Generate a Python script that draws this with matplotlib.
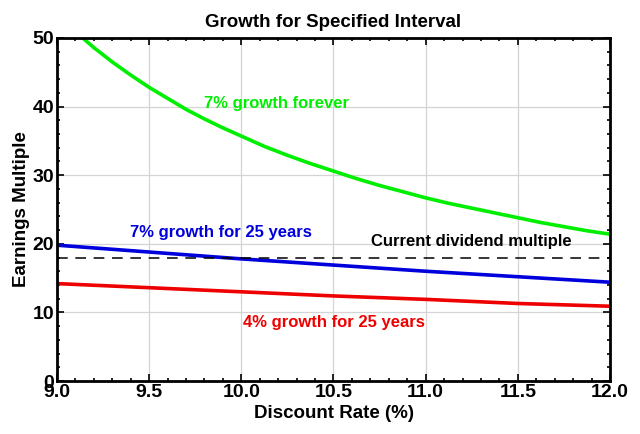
import matplotlib.pyplot as plt
from matplotlib.ticker import MultipleLocator

plt.rcParams['font.family'] = ['Liberation Sans', 'DejaVu Sans']
plt.rcParams['font.weight'] = 'bold'

# 7% growth forever
rate_forever = [9.14, 9.2, 9.3, 9.4, 9.5, 9.6, 9.7, 9.8, 9.9, 10.0, 10.125, 10.25,
                10.375, 10.5, 10.625, 10.75, 10.875, 11.0, 11.125, 11.25, 11.375,
                11.5, 11.625, 11.75, 11.875, 12.0]
mult_forever = [50.0, 48.6, 46.5, 44.6, 42.8, 41.2, 39.6, 38.2, 36.9, 35.7, 34.2, 32.9,
                31.7, 30.6, 29.5, 28.5, 27.6, 26.7, 25.9, 25.2, 24.5,
                23.8, 23.1, 22.5, 21.9, 21.4]

# 25-year growth curves
rate_25 = [9.0, 9.5, 10.0, 10.5, 11.0, 11.5, 12.0]
mult_7pct_25 = [19.8, 18.8, 17.8, 16.9, 16.0, 15.2, 14.4]
mult_4pct_25 = [14.2, 13.6, 13.0, 12.4, 11.9, 11.3, 10.9]

dividend_multiple = 18.0

fig = plt.figure(figsize=(6.4, 4.34), dpi=100)
ax = fig.add_axes([57 / 640, 1 - 381 / 434, (610 - 57) / 640, (381 - 38) / 434])

ax.plot(rate_forever, mult_forever, color='#00ee00', lw=2.6)
ax.plot(rate_25, mult_7pct_25, color='#0000dd', lw=2.6)
ax.plot(rate_25, mult_4pct_25, color='#ee0000', lw=2.6)
ax.axhline(dividend_multiple, color='black', lw=1.1, dashes=(7, 5))

ax.text(10.19, 40.4, '7% growth forever', color='#00ee00', fontsize=12,
        ha='center', va='center', fontweight='bold')
ax.text(9.89, 21.7, '7% growth for 25 years', color='#0000dd', fontsize=12,
        ha='center', va='center', fontweight='bold')
ax.text(11.25, 20.3, 'Current dividend multiple', color='black', fontsize=12,
        ha='center', va='center', fontweight='bold')
ax.text(10.5, 8.6, '4% growth for 25 years', color='#ee0000', fontsize=12,
        ha='center', va='center', fontweight='bold')

ax.set_xlim(9, 12)
ax.set_ylim(0, 50)
ax.xaxis.set_major_locator(MultipleLocator(0.5))
ax.xaxis.set_minor_locator(MultipleLocator(0.1))
ax.yaxis.set_major_locator(MultipleLocator(10))
ax.yaxis.set_minor_locator(MultipleLocator(2))
ax.xaxis.set_major_formatter(plt.FormatStrFormatter('%.1f'))
ax.grid(True, which='major', color='#d4d4d4', lw=0.9)
ax.tick_params(which='both', direction='in', top=True, right=True, width=1.2)
ax.tick_params(which='major', length=5, labelsize=14, pad=2)
ax.tick_params(which='minor', length=2.5)
for s in ax.spines.values():
    s.set_linewidth(2)

ax.set_xlabel('Discount Rate (%)', fontsize=13.5, fontweight='bold', labelpad=3)
ax.set_ylabel('Earnings Multiple', fontsize=13.5, fontweight='bold', labelpad=2)
ax.set_title('Growth for Specified Interval', fontsize=13.5, fontweight='bold', pad=8)

fig.savefig('out.png', dpi=100)
